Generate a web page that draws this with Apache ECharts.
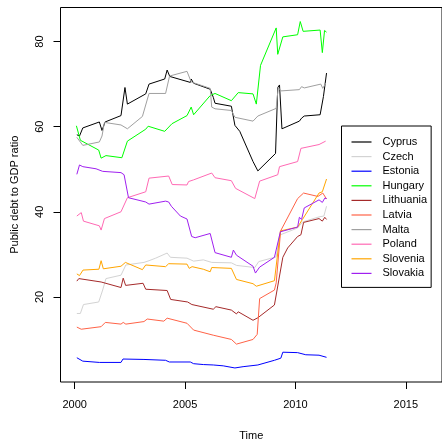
<!DOCTYPE html>
<html><head><meta charset="utf-8">
<script src="https://cdn.jsdelivr.net/npm/echarts@6/dist/echarts.min.js"></script>
<style>html,body{margin:0;padding:0;background:#fff}#c{width:442px;height:446px}</style>
</head><body><div id="c"></div>
<script>
const countries = ['Cyprus','Czech','Estonia','Hungary','Lithuania','Latvia','Malta','Poland','Slovenia','Slovakia'];
const colors = ['#000000','#D3D3D3','#0000FF','#00FF00','#A52A2A','#FF6347','#A0A0A0','#FF69B4','#FFA500','#A020F0'];
const xTicks = [2000, 2005, 2010, 2015];
const yTicks = [20, 40, 60, 80];

const cyprusT = [2000.10,2000.22,2000.37,2001.12,2001.24,2001.38,2002.10,2002.28,2002.39,2003.22,2003.37,2004.08,2004.19,2004.31,2005.24,2005.28,2005.39,2006.14,2006.28,2006.36,2007.10,2007.26,2007.48,2008.08,2008.30,2009.10,2009.20,2009.28,2009.39,2010.18,2010.28,2010.40,2011.12,2011.27,2011.41];
const cyprusV = [58.1,57.8,59.7,61.1,59.1,61.1,62.6,69.2,65.3,67.7,70.0,71.2,73.3,71.8,70.4,71.2,70.2,68.8,66.9,65.5,64.8,60.3,58.9,51.8,49.6,53.7,69.2,69.8,59.5,61.3,62.0,62.5,62.8,67.1,72.6];

const czechT = [2000.10,2000.26,2000.40,2001.09,2001.27,2001.42,2002.10,2002.32,2003.14,2003.37,2003.67,2004.19,2004.34,2005.09,2005.39,2005.83,2006.21,2007.10,2007.33,2008.16,2008.34,2009.13,2009.28,2010.10,2010.32,2011.07,2011.29,2011.41];
const czechV = [16.1,16.1,18.2,18.8,21.6,24.3,25.1,27.5,28.1,28.5,29.1,30.3,29.3,29.1,28.4,28.7,28.1,28.0,27.4,26.9,28.3,29.4,34.5,36.2,37.6,38.8,39.0,41.3];

const estoniaT = [2000.10,2000.37,2001.12,2002.10,2002.19,2003.14,2004.12,2004.29,2005.24,2005.39,2005.83,2006.28,2006.73,2007.26,2007.63,2008.30,2009.05,2009.34,2009.43,2010.10,2010.47,2011.07,2011.41];
const estoniaV = [5.7,4.9,4.6,4.6,5.4,5.3,5.1,4.7,4.7,4.3,4.1,4.0,3.8,3.3,3.6,4.0,5.1,5.6,7.0,6.9,6.4,6.3,5.8];

const hungaryT = [2000.08,2000.26,2001.09,2001.20,2001.42,2002.14,2002.39,2003.22,2003.33,2004.08,2004.41,2005.09,2005.28,2005.39,2006.14,2006.36,2007.10,2007.41,2008.08,2008.23,2008.30,2008.42,2009.13,2009.20,2009.43,2010.10,2010.22,2010.35,2011.12,2011.22,2011.32,2011.41];
const hungaryV = [60.2,56.8,54.5,52.6,53.2,52.7,56.6,59.4,60.1,58.9,60.7,62.6,64.6,62.8,67.3,67.8,66.1,68.0,67.7,65.3,65.5,74.4,83.2,77.0,81.1,81.6,84.7,82.4,82.7,77.4,82.6,82.2];

const lithuaniaT = [2000.10,2000.19,2001.20,2002.10,2002.20,2002.31,2003.10,2003.22,2004.19,2004.35,2005.12,2005.31,2006.28,2006.40,2007.10,2007.33,2007.41,2008.08,2008.30,2009.05,2009.43,2009.65,2010.10,2010.25,2010.37,2011.07,2011.22,2011.33,2011.41];
const lithuaniaV = [23.7,24.3,23.5,22.2,24.4,22.7,23.2,21.8,21.5,19.4,18.8,18.2,17.1,17.7,16.9,16.0,16.5,14.5,15.1,18.1,29.3,31.5,34.2,34.6,37.5,38.4,37.8,38.7,38.2];

const latviaT = [2000.10,2000.30,2001.20,2001.39,2002.10,2002.20,2002.32,2003.14,2003.29,2004.04,2004.19,2005.09,2005.39,2006.28,2007.10,2007.33,2008.08,2008.27,2008.38,2009.05,2009.13,2009.33,2010.10,2010.37,2011.02,2011.24,2011.41];
const latviaV = [12.9,12.4,13.0,14.0,13.6,14.0,13.6,14.2,14.8,14.3,15.0,13.8,12.2,11.0,10.0,8.9,10.0,11.2,19.6,21.6,23.3,35.5,43.1,44.4,43.6,44.4,43.0];

const maltaT = [2000.10,2000.37,2001.12,2001.24,2001.35,2002.10,2002.39,2003.07,2003.37,2004.12,2004.30,2005.09,2005.28,2006.14,2006.21,2006.36,2007.10,2007.26,2008.08,2008.30,2009.13,2009.22,2009.35,2010.18,2010.28,2010.40,2011.15,2011.24,2011.37];
const maltaV = [57.5,55.6,56.4,57.8,61.0,60.4,59.5,62.4,67.8,67.8,71.9,73.0,70.5,69.0,64.6,64.2,63.8,62.2,61.3,62.5,64.3,69.2,68.4,68.7,69.4,69.1,70.0,69.0,70.2];

const polandT = [2000.10,2000.30,2000.40,2001.12,2001.20,2001.35,2002.10,2002.39,2003.22,2003.37,2004.26,2004.42,2005.09,2005.16,2005.25,2005.39,2006.21,2006.36,2007.10,2007.29,2008.16,2008.38,2009.20,2009.28,2010.10,2010.25,2011.07,2011.37];
const polandV = [39.0,39.8,37.8,36.7,35.7,38.4,40.0,43.3,44.7,47.9,48.4,46.4,46.3,47.1,46.8,47.5,49.1,48.0,47.3,45.5,43.1,47.2,48.7,50.6,51.8,54.9,55.8,56.6];

const sloveniaT = [2000.10,2000.22,2000.38,2001.10,2001.20,2001.30,2002.10,2002.30,2003.07,2003.22,2004.12,2004.26,2005.09,2005.19,2005.32,2005.83,2006.14,2006.21,2007.10,2007.33,2008.08,2008.23,2009.05,2009.32,2010.10,2010.32,2011.07,2011.22,2011.41];
const sloveniaV = [25.4,25.0,26.3,26.5,28.5,26.6,27.2,28.1,26.4,27.5,27.1,27.8,27.7,26.7,27.1,26.5,25.9,26.9,26.7,24.1,23.1,22.5,23.8,35.5,36.4,38.2,44.4,44.7,47.7];

const slovakiaT = [2000.10,2000.22,2000.37,2000.97,2001.27,2001.35,2002.10,2002.24,2002.44,2003.22,2003.37,2004.12,2004.26,2004.38,2004.79,2005.09,2005.30,2005.46,2006.14,2006.36,2007.10,2007.19,2007.33,2008.08,2008.19,2008.38,2009.05,2009.32,2010.10,2010.18,2010.28,2010.40,2011.07,2011.22,2011.33,2011.41];
const slovakiaV = [48.8,51.0,50.6,50.1,49.5,49.1,49.2,48.7,43.3,42.3,41.8,42.5,42.3,41.3,39.0,38.3,34.2,33.9,34.9,30.4,29.3,31.0,29.8,27.2,25.6,27.0,29.3,35.3,36.4,38.7,38.2,40.9,42.8,42.2,43.2,43.1];

const seriesT = [cyprusT, czechT, estoniaT, hungaryT, lithuaniaT, latviaT, maltaT, polandT, sloveniaT, slovakiaT];
const seriesV = [cyprusV, czechV, estoniaV, hungaryV, lithuaniaV, latviaV, maltaV, polandV, sloveniaV, slovakiaV];

const font = 'Liberation Sans, Arial, Helvetica, sans-serif';
const chart = echarts.init(document.getElementById('c'), null, {renderer: 'canvas'});
chart.setOption({
  animation: false,
  backgroundColor: '#ffffff',
  color: colors,
  grid: {left: 60.5, right: -3, top: 7.5, bottom: 60, show: true, borderColor: '#000', borderWidth: 1, containLabel: false},
  legend: {
    orient: 'vertical', left: 341.5, top: 126,
    data: countries.map(n => ({name: n, icon: 'rect'})),
    itemWidth: 20, itemHeight: 1.2, itemGap: 2.6,
    padding: [10, 4, 8, 10],
    borderColor: '#000', borderWidth: 1, backgroundColor: '#fff',
    textStyle: {fontFamily: font, fontSize: 11, color: '#000', lineHeight: 12, padding: [0, 0, 0, 6]},
    selectedMode: false
  },
  xAxis: {
    type: 'value', min: 1999.36, max: 2016.64,
    interval: 5,
    name: 'Time', nameLocation: 'middle', nameGap: 48,
    nameTextStyle: {fontFamily: font, fontSize: 11, color: '#000'},
    axisLine: {show: false},
    axisTick: {show: true, length: 7, lineStyle: {color: '#000'}, customValues: xTicks},
    axisLabel: {fontFamily: font, fontSize: 11, color: '#000', margin: 17, customValues: xTicks, formatter: v => String(v)},
    splitLine: {show: false}
  },
  yAxis: {
    type: 'value', min: 0, max: 88,
    name: 'Public debt to GDP ratio', nameLocation: 'middle', nameGap: 40,
    nameTextStyle: {fontFamily: font, fontSize: 11, color: '#000'},
    axisLine: {show: false},
    axisTick: {show: true, length: 7, lineStyle: {color: '#000'}, customValues: yTicks},
    axisLabel: {fontFamily: font, fontSize: 11, color: '#000', margin: 15, rotate: 90, customValues: yTicks, formatter: v => String(v)},
    splitLine: {show: false}
  },
  series: countries.map((name, k) => ({
    name: name, type: 'line', symbol: 'none', showSymbol: false,
    data: seriesT[k].map((t, j) => [t, seriesV[k][j]]),
    lineStyle: {width: 1, color: colors[k]},
    itemStyle: {color: colors[k]},
    z: 2 + k
  }))
});
</script></body></html>
